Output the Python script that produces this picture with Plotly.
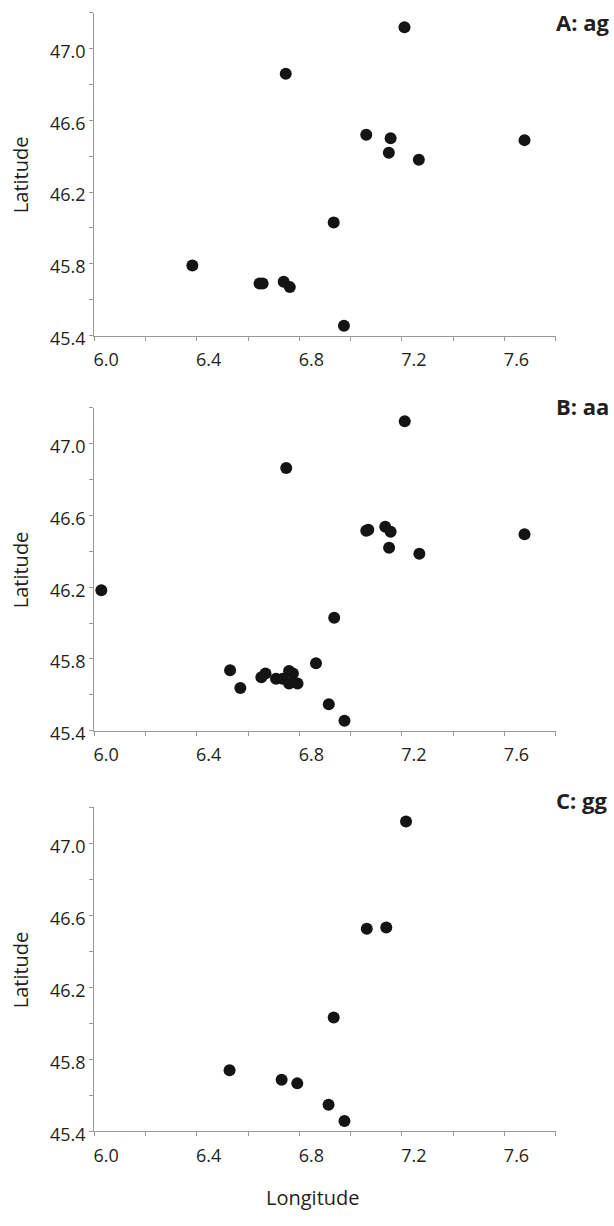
import plotly.graph_objects as go

# ---- data ----
panel_labels = ["A: ag", "B: aa", "C: gg"]

lon_A = [7.21, 6.747, 7.061, 7.156, 7.149, 7.266, 7.678, 6.934, 6.383, 6.645, 6.657, 6.739, 6.763, 6.974]
lat_A = [47.12, 46.86, 46.52, 46.50, 46.42, 46.38, 46.49, 46.03, 45.79, 45.69, 45.69, 45.70, 45.67, 45.455]

lon_B = [7.211, 6.749, 7.061, 7.069, 7.135, 7.156, 7.150, 7.268, 7.678, 6.028, 6.936, 6.865, 6.530, 6.570,
         6.652, 6.668, 6.709, 6.735, 6.760, 6.775, 6.760, 6.793, 6.915, 6.976]
lat_B = [47.126, 46.865, 46.515, 46.52, 46.537, 46.509, 46.42, 46.387, 46.496, 46.183, 46.03, 45.775, 45.737, 45.638,
         45.698, 45.719, 45.689, 45.689, 45.732, 45.719, 45.663, 45.663, 45.547, 45.455]

lon_C = [7.216, 7.063, 7.139, 6.934, 6.528, 6.731, 6.792, 6.914, 6.976]
lat_C = [47.122, 46.526, 46.532, 46.032, 45.739, 45.686, 45.666, 45.547, 45.457]

x_tick_vals = [6.0, 6.4, 6.8, 7.2, 7.6]
x_minor_vals = [6.2, 6.6, 7.0, 7.4, 7.8]
y_tick_vals = [45.4, 45.8, 46.2, 46.6, 47.0]
y_minor_vals = [45.6, 46.0, 46.4, 46.8, 47.2]

x_title = "Longitude"
y_title = "Latitude"

# ---- layout geometry (pixels) ----
W, H = 614, 1226
x_px = (93.3, 555.7)
panels_px = [(13.0, 339.4), (412.7, 739.0), (816.7, 1144.3)]
label_y_px = [22, 411, 809]

FONT = "Open Sans"
AX = "#9a9a9a"
TXT = "#231f20"

fig = go.Figure()
series = [(lon_A, lat_A), (lon_B, lat_B), (lon_C, lat_C)]

for i, ((xs, ys), (top, bot)) in enumerate(zip(series, panels_px)):
    n = "" if i == 0 else str(i + 1)
    fig.add_trace(go.Scatter(
        x=xs, y=ys, mode="markers",
        marker=dict(size=12, color="#141414", line=dict(width=0)),
        xaxis="x" + n, yaxis="y" + n, showlegend=False, hoverinfo="x+y"))
    common = dict(showline=True, linecolor=AX, linewidth=1, showgrid=False, zeroline=False,
                  ticks="outside", ticklen=4, tickcolor=AX, tickwidth=1,
                  tickfont=dict(family=FONT, size=18, color=TXT))
    fig.layout["xaxis" + n] = dict(
        common, domain=[x_px[0] / W, x_px[1] / W], anchor="y" + n,
        range=[6.0, 7.8], tickmode="array", tickvals=x_tick_vals,
        ticktext=[f"{v:.1f}" for v in x_tick_vals], ticklabelshift=12, ticklabelstandoff=4,
        minor=dict(tickmode="array", tickvals=x_minor_vals, ticks="outside",
                   ticklen=4, tickcolor=AX, showgrid=False))
    fig.layout["yaxis" + n] = dict(
        common, domain=[1 - bot / H, 1 - top / H], anchor="x" + n,
        range=[45.4, 47.2], tickmode="array", tickvals=y_tick_vals,
        ticktext=[f"{v:.1f}" for v in y_tick_vals], ticklabelshift=3,
        minor=dict(tickmode="array", tickvals=y_minor_vals, ticks="outside",
                   ticklen=4, tickcolor=AX, showgrid=False))
    # panel label
    fig.add_annotation(text=f"<b>{panel_labels[i]}</b>", xref="paper", yref="paper",
                       x=554 / W, xanchor="left", y=1 - label_y_px[i] / H, yanchor="middle",
                       showarrow=False, font=dict(family=FONT, size=22, color=TXT))
    # y title
    fig.add_annotation(text=y_title, xref="paper", yref="paper", x=19 / W, xanchor="center",
                       y=1 - (top + bot) / 2 / H, yanchor="middle", textangle=-90,
                       showarrow=False, font=dict(family=FONT, size=20, color=TXT))

fig.add_annotation(text=x_title, xref="paper", yref="paper", x=313 / W, xanchor="center",
                   y=1 - 1211 / H, yanchor="middle", showarrow=False,
                   font=dict(family=FONT, size=20, color=TXT))

fig.update_layout(width=W, height=H, margin=dict(l=0, r=0, t=0, b=0),
                  paper_bgcolor="white", plot_bgcolor="white")

fig.write_html("out.html", config={"displayModeBar": False},
               post_script="document.body.style.margin='0';document.body.style.overflow='hidden';")
